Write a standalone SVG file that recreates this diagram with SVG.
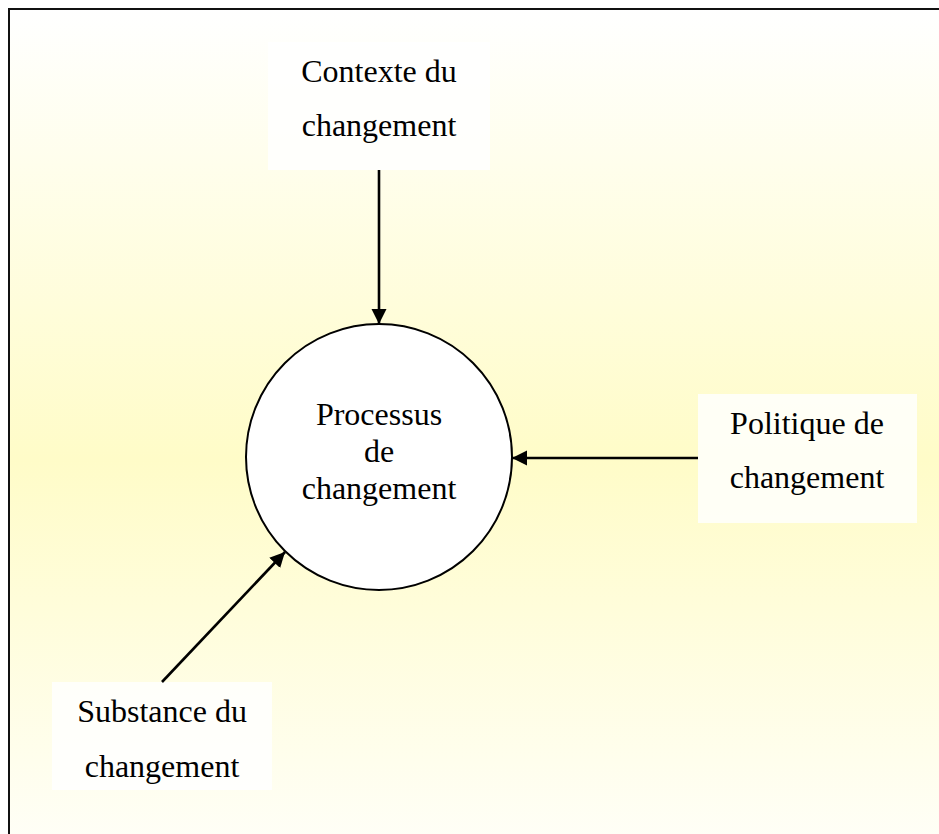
<svg xmlns="http://www.w3.org/2000/svg" width="939" height="834" viewBox="0 0 939 834">
  <style>
    .lbl { font-family: "Liberation Serif", "Times New Roman", serif; font-size: 32px; fill: #000; text-anchor: middle; }
    .box { fill: #FFFFFF; fill-opacity: 0.82; stroke: none; }
    .conn { stroke: #000; stroke-width: 2.6; fill: none; marker-end: url(#arrow); }
  </style>
  <defs>
    <linearGradient id="bg" x1="0" y1="0" x2="0" y2="1">
      <stop offset="0" stop-color="#FFFFFF"/>
      <stop offset="0.5" stop-color="#FFFCC8"/>
      <stop offset="1" stop-color="#FFFFFF"/>
    </linearGradient>
    <marker id="arrow" markerUnits="userSpaceOnUse" markerWidth="16" markerHeight="16" viewBox="0 0 16 16" refX="15" refY="8" orient="auto">
      <path d="M0,0.5 L15,8 L0,15.5 Z" fill="#000"/>
    </marker>
  </defs>

  <rect x="9" y="9" width="1000" height="900" fill="url(#bg)" stroke="#111" stroke-width="2"/>

  <g id="contexte">
    <rect class="box" x="268" y="42" width="222" height="128"/>
    <text class="lbl" x="379" y="82">Contexte du</text>
    <text class="lbl" x="379" y="136">changement</text>
  </g>

  <g id="politique">
    <rect class="box" x="698" y="394" width="219" height="129"/>
    <text class="lbl" x="807" y="434">Politique de</text>
    <text class="lbl" x="807" y="488">changement</text>
  </g>

  <g id="substance">
    <rect class="box" x="52" y="682" width="220" height="108"/>
    <text class="lbl" x="162" y="722">Substance du</text>
    <text class="lbl" x="162" y="777">changement</text>
  </g>

  <g id="processus">
    <circle cx="379" cy="457" r="133" fill="#FFFFFF" stroke="#000" stroke-width="2"/>
    <text class="lbl" x="379" y="425">Processus</text>
    <text class="lbl" x="379" y="462">de</text>
    <text class="lbl" x="379" y="499">changement</text>
  </g>

  <g id="connectors">
    <line class="conn" x1="379" y1="170" x2="379" y2="324"/>
    <line class="conn" x1="698" y1="458" x2="512" y2="458"/>
    <line class="conn" x1="162" y1="682" x2="285" y2="552"/>
  </g>
</svg>
